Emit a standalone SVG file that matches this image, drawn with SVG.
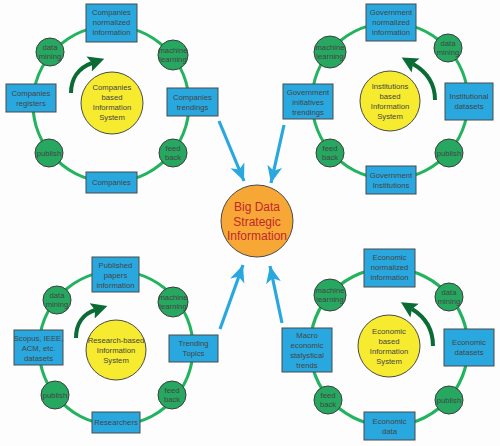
<svg xmlns="http://www.w3.org/2000/svg" width="500" height="446" viewBox="0 0 500 446">
<defs>
<style>
.ring{fill:none;stroke:#22b35e;stroke-width:3.2}
.box{fill:#29a8df;stroke:#4a4a4a;stroke-width:1}
.sm{fill:#27a860;stroke:#3d3d3d;stroke-width:1}
.yel{fill:#f6eb2e;stroke:#4a4a4a;stroke-width:1}
.t{font-family:"Liberation Sans",Arial,sans-serif;font-size:7.7px;fill:#444444;text-anchor:middle}
.ct{font-family:"Liberation Sans",Arial,sans-serif;font-size:12px;fill:#c1272d;text-anchor:middle}
.blue{stroke:#29a8df;stroke-width:3.2;fill:none;marker-end:url(#bh)}
.dg{stroke:#0b6b35;stroke-width:4;fill:none;marker-end:url(#gh)}
</style>
<marker id="bh" markerUnits="userSpaceOnUse" markerWidth="20" markerHeight="20" refX="17" refY="7.5" orient="auto" viewBox="0 0 20 15">
<path d="M0,0 L17,7.5 L0,15 L4.5,7.5 z" fill="#29a8df"/>
</marker>
<marker id="gh" markerUnits="userSpaceOnUse" markerWidth="20" markerHeight="20" refX="3" refY="8" orient="auto" viewBox="0 0 20 16">
<path d="M0,0 L16,8 L0,16 L3,8 z" fill="#0b6b35"/>
</marker>
</defs>
<rect width="500" height="446" fill="#fdfdfd"/>

<g id="connectors">
<path class="blue" d="M219,121 L244,181"/>
<path class="blue" d="M284,125 L271,183"/>
<path class="blue" d="M220,329 L243,265"/>
<path class="blue" d="M282,323 L270,266"/>
</g>

<g id="center">
<circle cx="257" cy="221" r="36" fill="#f7a735" stroke="#4a4a4a" stroke-width="1"/>
<text class="ct" x="257" y="211">Big Data</text>
<text class="ct" x="257" y="225.5">Strategic</text>
<text class="ct" x="257" y="240">Information</text>
</g>

<!-- Top-left cluster -->
<g id="companies">
<circle class="ring" cx="111" cy="104" r="78"/>
<path class="dg" d="M71,93 C71,79 78,68 92,63"/>
<g id="c-top"><rect class="box" x="86" y="4" width="51" height="38"/>
<text class="t" x="111.5" y="15">Companies</text><text class="t" x="111.5" y="25">normalized</text><text class="t" x="111.5" y="35">information</text></g>
<g id="c-left"><rect class="box" x="6" y="84" width="50" height="28"/>
<text class="t" x="31" y="96">Companies</text><text class="t" x="31" y="106">registers</text></g>
<g id="c-right"><rect class="box" x="167" y="88" width="51" height="28"/>
<text class="t" x="192.5" y="100">Companies</text><text class="t" x="192.5" y="110">trendings</text></g>
<g id="c-bottom"><rect class="box" x="86" y="172" width="51" height="21"/>
<text class="t" x="111.5" y="185">Companies</text></g>
<g id="c-dm"><circle class="sm" cx="50" cy="52" r="14"/>
<text class="t" x="50" y="50">data</text><text class="t" x="50" y="59">mining</text></g>
<g id="c-ml"><circle class="sm" cx="173" cy="55" r="15"/>
<text class="t" x="173" y="53">machine</text><text class="t" x="173" y="62">learning</text></g>
<g id="c-fb"><circle class="sm" cx="173" cy="153" r="14"/>
<text class="t" x="173" y="151">feed</text><text class="t" x="173" y="160">back</text></g>
<g id="c-pub"><circle class="sm" cx="49" cy="153" r="14"/>
<text class="t" x="49" y="156">publish</text></g>
<g id="c-core"><circle class="yel" cx="112" cy="103" r="31"/>
<text class="t" x="112" y="90">Companies</text><text class="t" x="112" y="100">based</text><text class="t" x="112" y="110">Information</text><text class="t" x="112" y="120">System</text></g>
</g>

<!-- Top-right cluster -->
<g id="institutions">
<circle class="ring" cx="390" cy="101" r="78"/>
<path class="dg" d="M435,100 C435,84 427,72 413,64"/>
<g id="i-top"><rect class="box" x="366" y="4" width="50" height="37"/>
<text class="t" x="391" y="15">Government</text><text class="t" x="391" y="25">normalized</text><text class="t" x="391" y="35">information</text></g>
<g id="i-left"><rect class="box" x="283" y="84" width="50" height="35"/>
<text class="t" x="308" y="95">Government</text><text class="t" x="308" y="105">initiatives</text><text class="t" x="308" y="115">trendings</text></g>
<g id="i-right"><rect class="box" x="445" y="83" width="48" height="37"/>
<text class="t" x="469" y="99">Institutional</text><text class="t" x="469" y="109">datasets</text></g>
<g id="i-bottom"><rect class="box" x="366" y="166" width="50" height="28"/>
<text class="t" x="391" y="178">Government</text><text class="t" x="391" y="188">Institutions</text></g>
<g id="i-ml"><circle class="sm" cx="330" cy="52" r="16"/>
<text class="t" x="330" y="50">machine</text><text class="t" x="330" y="59">learning</text></g>
<g id="i-dm"><circle class="sm" cx="448" cy="48" r="14"/>
<text class="t" x="448" y="46">data</text><text class="t" x="448" y="55">mining</text></g>
<g id="i-pub"><circle class="sm" cx="449" cy="153" r="14"/>
<text class="t" x="449" y="156">publish</text></g>
<g id="i-fb"><circle class="sm" cx="330" cy="153" r="14"/>
<text class="t" x="330" y="151">feed</text><text class="t" x="330" y="160">back</text></g>
<g id="i-core"><circle class="yel" cx="390" cy="101" r="30"/>
<text class="t" x="390" y="89">Institutions</text><text class="t" x="390" y="99">based</text><text class="t" x="390" y="109">Information</text><text class="t" x="390" y="119">System</text></g>
</g>

<!-- Bottom-left cluster -->
<g id="research">
<circle class="ring" cx="116" cy="348" r="77"/>
<path class="dg" d="M76,338 C76,324 83,314 95,310"/>
<g id="r-top"><rect class="box" x="92" y="257" width="47" height="35"/>
<text class="t" x="115.5" y="268">Published</text><text class="t" x="115.5" y="278">papers</text><text class="t" x="115.5" y="288">information</text></g>
<g id="r-left"><rect class="box" x="14" y="330" width="49" height="35"/>
<text class="t" x="38.5" y="341">Scopus, IEEE,</text><text class="t" x="38.5" y="351">ACM, etc.</text><text class="t" x="38.5" y="361">datasets</text></g>
<g id="r-right"><rect class="box" x="169" y="335" width="49" height="27"/>
<text class="t" x="193.5" y="346">Trending</text><text class="t" x="193.5" y="356">Topics</text></g>
<g id="r-bottom"><rect class="box" x="92" y="412" width="48" height="21"/>
<text class="t" x="116" y="425">Researchers</text></g>
<g id="r-dm"><circle class="sm" cx="57" cy="300" r="14"/>
<text class="t" x="57" y="298">data</text><text class="t" x="57" y="307">mining</text></g>
<g id="r-ml"><circle class="sm" cx="173" cy="302" r="15"/>
<text class="t" x="173" y="300">machine</text><text class="t" x="173" y="309">learning</text></g>
<g id="r-fb"><circle class="sm" cx="172" cy="395" r="14"/>
<text class="t" x="172" y="393">feed</text><text class="t" x="172" y="402">back</text></g>
<g id="r-pub"><circle class="sm" cx="55" cy="395" r="14"/>
<text class="t" x="55" y="398">publish</text></g>
<g id="r-core"><circle class="yel" cx="116" cy="350" r="30"/>
<text class="t" x="116" y="343">Research-based</text><text class="t" x="116" y="353">Information</text><text class="t" x="116" y="363">System</text></g>
</g>

<!-- Bottom-right cluster -->
<g id="economic">
<circle class="ring" cx="389" cy="347" r="79"/>
<path class="dg" d="M433,346 C433,329 425,317 412,309"/>
<g id="e-top"><rect class="box" x="364" y="249" width="51" height="38"/>
<text class="t" x="389.5" y="260">Economic</text><text class="t" x="389.5" y="270">normalized</text><text class="t" x="389.5" y="280">information</text></g>
<g id="e-left"><rect class="box" x="282" y="328" width="50" height="44"/>
<text class="t" x="307" y="338">Macro</text><text class="t" x="307" y="348">economic</text><text class="t" x="307" y="358">statystical</text><text class="t" x="307" y="368">trends</text></g>
<g id="e-right"><rect class="box" x="444" y="329" width="50" height="37"/>
<text class="t" x="469" y="345">Economic</text><text class="t" x="469" y="355">datasets</text></g>
<g id="e-bottom"><rect class="box" x="364" y="412" width="51" height="28"/>
<text class="t" x="389.5" y="424">Economic</text><text class="t" x="389.5" y="434">data</text></g>
<g id="e-ml"><circle class="sm" cx="330" cy="295" r="16"/>
<text class="t" x="330" y="293">machine</text><text class="t" x="330" y="302">learning</text></g>
<g id="e-dm"><circle class="sm" cx="449" cy="297" r="14"/>
<text class="t" x="449" y="295">data</text><text class="t" x="449" y="304">mining</text></g>
<g id="e-pub"><circle class="sm" cx="449" cy="400" r="14"/>
<text class="t" x="449" y="403">publish</text></g>
<g id="e-fb"><circle class="sm" cx="328" cy="400" r="14"/>
<text class="t" x="328" y="398">feed</text><text class="t" x="328" y="407">back</text></g>
<g id="e-core"><circle class="yel" cx="389" cy="346" r="31"/>
<text class="t" x="389" y="334">Economic</text><text class="t" x="389" y="344">based</text><text class="t" x="389" y="354">Information</text><text class="t" x="389" y="364">System</text></g>
</g>
</svg>
